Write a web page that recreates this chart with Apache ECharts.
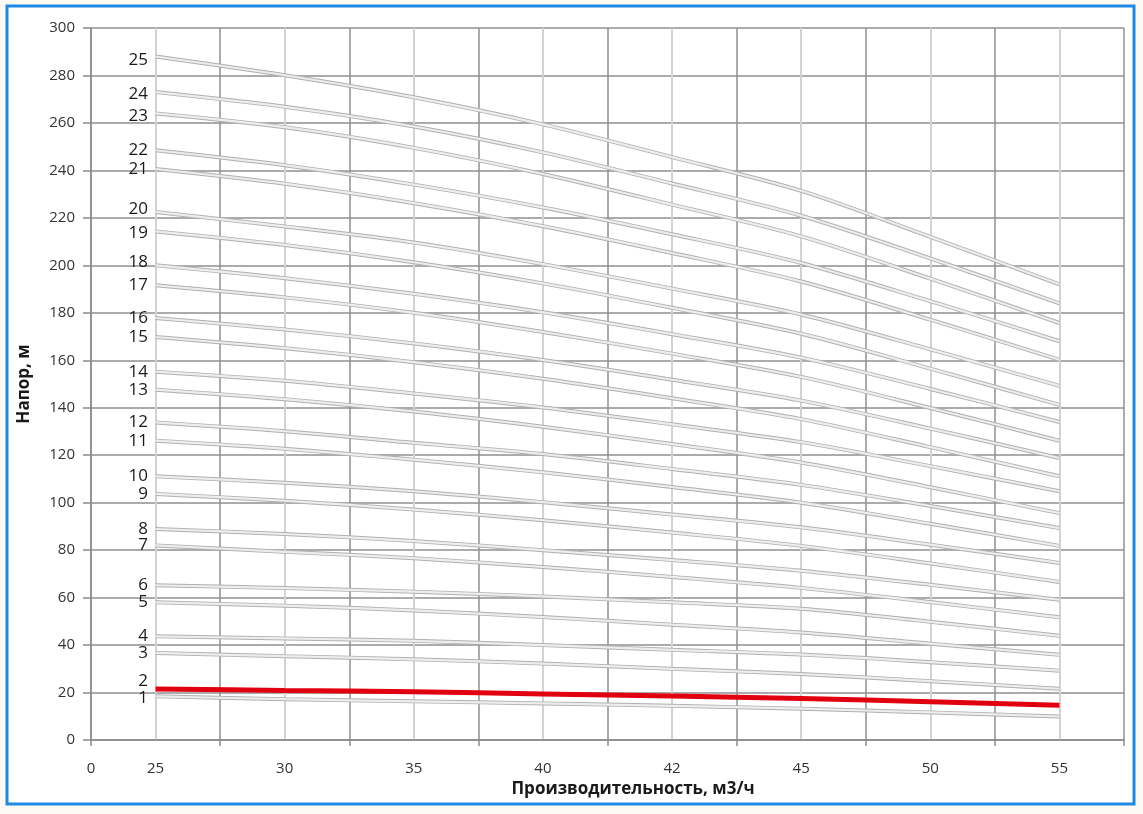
<!DOCTYPE html>
<html>
<head>
<meta charset="utf-8">
<script src="https://cdn.jsdelivr.net/npm/echarts@6/dist/echarts.min.js"></script>
<style>
html,body{margin:0;padding:0;background:#fcfaf3;}
#c{width:1143px;height:814px;}
</style>
</head>
<body>
<div id="c"></div>
<script>
// Flow rate categories (m3/h) and axis labels
const flow = [25, 30, 35, 40, 42, 45, 50, 55];
const xTickLabels = ['0', '25', '30', '35', '40', '42', '45', '50', '55'];
const yTicks = [0, 20, 40, 60, 80, 100, 120, 140, 160, 180, 200, 220, 240, 260, 280, 300];

// Head (m) for each curve, at the flow values above
const h1  = [18.4, 17.2, 16.3, 15.4, 14.4, 13.2, 11.6, 9.9];
const h2  = [21.5, 20.9, 20.3, 19.4, 18.5, 17.5, 16.1, 14.6];
const h3  = [36.7, 35.3, 34.0, 32.2, 30.0, 27.8, 24.8, 21.6];
const h4  = [43.7, 42.8, 41.8, 40.0, 38.0, 36.0, 32.8, 29.2];
const h5  = [58.0, 56.6, 54.6, 51.8, 48.6, 45.3, 40.6, 35.9];
const h6  = [65.2, 64.0, 62.5, 60.5, 58.0, 55.3, 49.8, 43.9];
const h7  = [82.0, 79.3, 76.6, 72.9, 68.7, 64.1, 58.1, 51.7];
const h8  = [88.9, 86.8, 83.8, 80.0, 75.8, 71.3, 65.4, 59.1];
const h9  = [103.7, 100.8, 97.1, 92.6, 87.4, 81.8, 74.4, 66.6];
const h10 = [111.1, 108.4, 104.8, 100.2, 95.0, 89.6, 82.3, 74.6];
const h11 = [126.1, 122.7, 118.1, 112.8, 106.6, 100.0, 91.1, 81.8];
const h12 = [133.8, 130.1, 125.2, 120.5, 114.2, 107.5, 98.6, 89.3];
const h13 = [147.6, 143.6, 138.4, 132.0, 124.7, 116.9, 106.5, 95.6];
const h14 = [155.2, 151.4, 146.0, 140.1, 133.0, 125.5, 115.4, 104.8];
const h15 = [169.8, 165.1, 159.2, 152.2, 144.0, 135.2, 123.4, 111.1];
const h16 = [177.8, 173.0, 167.1, 160.1, 151.8, 143.0, 131.2, 118.8];
const h17 = [191.6, 186.5, 180.0, 171.9, 162.8, 153.0, 139.9, 126.1];
const h18 = [200.0, 194.6, 188.0, 180.2, 171.0, 161.1, 147.9, 134.0];
const h19 = [214.3, 208.6, 201.3, 192.4, 182.1, 171.2, 156.5, 141.2];
const h20 = [222.5, 216.4, 209.6, 200.5, 190.2, 179.3, 164.6, 149.2];
const h21 = [240.6, 234.4, 226.2, 216.5, 205.2, 193.2, 177.1, 160.2];
const h22 = [248.5, 242.2, 234.0, 224.4, 213.1, 201.0, 184.9, 168.0];
const h23 = [264.0, 258.2, 249.5, 238.5, 225.6, 212.2, 194.4, 175.7];
const h24 = [273.0, 266.8, 258.5, 247.6, 234.5, 220.9, 202.9, 184.0];
const h25 = [288.0, 280.1, 270.8, 259.4, 245.6, 231.4, 212.0, 192.0];

const curves = [h1,h2,h3,h4,h5,h6,h7,h8,h9,h10,h11,h12,h13,h14,h15,h16,h17,h18,h19,h20,h21,h22,h23,h24,h25];
const curveNames = curves.map((_, i) => String(i + 1));
const highlighted = '2';

// Flow categories are drawn at odd slots of a 0..16 axis (slot 0 is the origin "0")
const slotOf = i => 1 + 2 * i;
const labelSlots = [0].concat(flow.map((_, i) => slotOf(i)));
const labelBySlot = {};
labelSlots.forEach((s, k) => { labelBySlot[s] = xTickLabels[k]; });

const FONT = '"Open Sans", "Noto Sans", sans-serif';
// small vertical nudges of curve labels (style only, px)
const labelNudge = { '1': 2, '2': -8, '25': 4, '24': 2, '23': 3, '20': -3, '19': 2, '18': -3 };

const series = [];
curves.forEach((h, ci) => {
  const name = curveNames[ci];
  const pts = h.map((v, i) => [slotOf(i), v]);
  const isRed = name === highlighted;
  if (!isRed) {
    series.push({
      type: 'line', name: name + '-edge', data: pts, smooth: 0.3,
      symbol: 'none', silent: true, z: 3,
      lineStyle: { color: '#b0b0b0', width: 4 }
    });
  }
  series.push({
    type: 'line', name: name, smooth: 0.3, z: isRed ? 6 : 4,
    symbol: 'circle', symbolSize: 1, showSymbol: true,
    itemStyle: { opacity: 0 },
    lineStyle: isRed ? { color: '#e1000f', width: 5 } : { color: '#ededed', width: 2.2 },
    labelLayout: { hideOverlap: false },
    data: pts.map((p, i) => i === 0 ? {
      value: p,
      label: { show: true, position: [-7, 0.5 + (labelNudge[name] || 0)],
               align: 'right', verticalAlign: 'middle', formatter: name,
               color: '#1a1a1a', fontSize: 17, fontFamily: FONT, opacity: 1 }
    } : p)
  });
});

const chart = echarts.init(document.getElementById('c'), null, { renderer: 'canvas' });
chart.setOption({
  animation: false,
  backgroundColor: 'transparent',
  grid: { left: 91, right: 19, top: 28, bottom: 74, containLabel: false },
  xAxis: {
    type: 'value', min: 0, max: 16, interval: 2,
    axisLine: { show: true, lineStyle: { color: '#8a8a8a', width: 1.5 } },
    axisTick: { show: true, length: 6, lineStyle: { color: '#8a8a8a', width: 1.5 } },
    axisLabel: {
      customValues: labelSlots,
      formatter: v => labelBySlot[v] !== undefined ? labelBySlot[v] : '',
      color: '#333', fontSize: 15, fontFamily: FONT, margin: 21
    },
    splitLine: { show: true, lineStyle: { color: '#8f8f8f', width: 1.5 } },
    minorTick: { show: false, splitNumber: 2 },
    minorSplitLine: { show: true, lineStyle: { color: '#d2d2d2', width: 2 } }
  },
  yAxis: {
    type: 'value', min: 0, max: 300, interval: 20,
    axisLine: { show: true, lineStyle: { color: '#8a8a8a', width: 1.5 } },
    axisTick: { show: true, length: 8, lineStyle: { color: '#8a8a8a', width: 1.5 } },
    axisLabel: { color: '#333', fontSize: 15, fontFamily: FONT, margin: 16,
                 formatter: v => yTicks.indexOf(v) >= 0 ? String(v) : '' },
    splitLine: { show: true, lineStyle: { color: '#8f8f8f', width: 1.5 } }
  },
  graphic: [
    { type: 'rect', z: -10, silent: true,
      shape: { x: 7, y: 6, width: 1127, height: 798 },
      style: { fill: '#ffffff', stroke: '#1e88e5', lineWidth: 3 } },
    { type: 'text', x: 633, y: 789,
      style: { text: 'Производительность, м3/ч', font: 'bold 17px ' + FONT, fill: '#1a1a1a',
               align: 'center', verticalAlign: 'middle' } },
    { type: 'text', x: 24, y: 384, rotation: Math.PI / 2,
      style: { text: 'Напор, м', font: 'bold 17px ' + FONT, fill: '#1a1a1a',
               align: 'center', verticalAlign: 'middle' } }
  ],
  series: series
});
</script>
</body>
</html>
